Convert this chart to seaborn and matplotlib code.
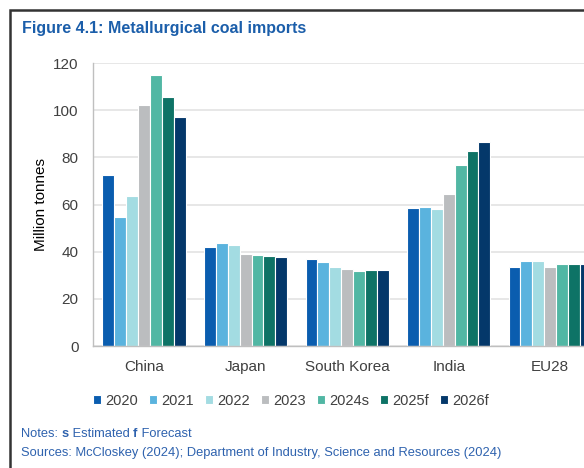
import matplotlib
matplotlib.use("Agg")
import matplotlib.pyplot as plt
import seaborn as sns
import pandas as pd
from matplotlib.patches import Rectangle

countries = ["China", "Japan", "South Korea", "India", "EU28"]
years = ["2020", "2021", "2022", "2023", "2024s", "2025f", "2026f"]
v2020 = [72.3, 41.9, 37.0, 58.5, 33.3]
v2021 = [54.5, 43.8, 35.7, 59.0, 36.0]
v2022 = [63.7, 42.7, 33.6, 57.9, 36.0]
v2023 = [102.4, 39.1, 32.6, 64.5, 33.3]
v2024s = [114.7, 38.4, 31.9, 76.8, 34.9]
v2025f = [105.6, 38.1, 32.1, 82.8, 34.9]
v2026f = [97.2, 37.7, 32.1, 86.7, 34.9]
colors = ["#0A5DAF", "#5AB3DE", "#A3DCE2", "#BBBDBF", "#51B7A4", "#0E7366", "#04386A"]
yticks = [0, 20, 40, 60, 80, 100, 120]

series = [v2020, v2021, v2022, v2023, v2024s, v2025f, v2026f]
rows = []
for y, vals in zip(years, series):
    for c, v in zip(countries, vals):
        rows.append({"country": c, "year": y, "value": v})
df = pd.DataFrame(rows)

sns.set_theme(style="white")
plt.rcParams["font.family"] = ["Liberation Sans", "DejaVu Sans"]

fig = plt.figure(figsize=(5.84, 4.68), dpi=100)
ax = fig.add_axes([93.3 / 584, 1 - 346 / 468, (601 - 93.3) / 584, (346 - 63) / 468])

sns.barplot(data=df, x="country", y="value", hue="year", order=countries,
            hue_order=years, palette=colors, width=0.82, edgecolor="white",
            linewidth=0.8, ax=ax, legend=True, saturation=1)

ax.set_ylim(0, 120)
ax.set_xlim(-0.5, 4.5)
ax.set_yticks(yticks)
ax.yaxis.grid(True, color="#E3E3E3", linewidth=1.2)
ax.set_axisbelow(True)
for s in ["top", "right"]:
    ax.spines[s].set_visible(False)
for s in ["left", "bottom"]:
    ax.spines[s].set_color("#BFBFBF")
    ax.spines[s].set_linewidth(1.0)
ax.tick_params(axis="both", length=0, labelsize=11, colors="#404040")
ax.tick_params(axis="y", pad=10.5)
ax.tick_params(axis="x", pad=10)
ax.set_xlabel("")
ax.set_ylabel("Million tonnes", fontsize=11, color="black", labelpad=4)

handles, labels = ax.get_legend_handles_labels()
ax.get_legend().remove()
fig.legend(handles, labels, loc="center", bbox_to_anchor=(291 / 584, 1 - 401 / 468),
           ncol=7, frameon=False, fontsize=10.5, handlelength=0.55, handleheight=0.55,
           handletextpad=0.3, columnspacing=0.75, labelcolor="#404040")

blue = "#2E62AE"
fs = 9.3
fig.text(22 / 584, 1 - 28 / 468, "Figure 4.1: Metallurgical coal imports",
         fontsize=11.5, fontweight="bold", color="#1B5EAA", va="center", ha="left")

t1 = fig.text(21 / 584, 1 - 437 / 468, "Notes: ", fontsize=fs, color=blue, va="baseline")
t2 = fig.text(0, 0, "s", fontsize=fs, color=blue, fontweight="bold", va="baseline")
t3 = fig.text(0, 0, " Estimated ", fontsize=fs, color=blue, va="baseline")
t4 = fig.text(0, 0, "f", fontsize=fs, color=blue, fontweight="bold", va="baseline")
t5 = fig.text(0, 0, " Forecast", fontsize=fs, color=blue, va="baseline")
fig.canvas.draw()
r = fig.canvas.get_renderer()
prev = t1
for t in [t2, t3, t4, t5]:
    bb = prev.get_window_extent(r)
    x = bb.x1 / fig.bbox.width
    t.set_position((x, 1 - 437 / 468))
    fig.canvas.draw()
    prev = t
fig.text(21 / 584, 1 - 456 / 468,
         "Sources: McCloskey (2024); Department of Industry, Science and Resources (2024)",
         fontsize=fs, color=blue, va="baseline")

fig.add_artist(Rectangle((10 / 584, -0.1), 1.2, 1 - 9.5 / 468 + 0.1, transform=fig.transFigure,
                         fill=False, edgecolor="#333333", linewidth=1.8))

fig.savefig("out.png", dpi=100)
